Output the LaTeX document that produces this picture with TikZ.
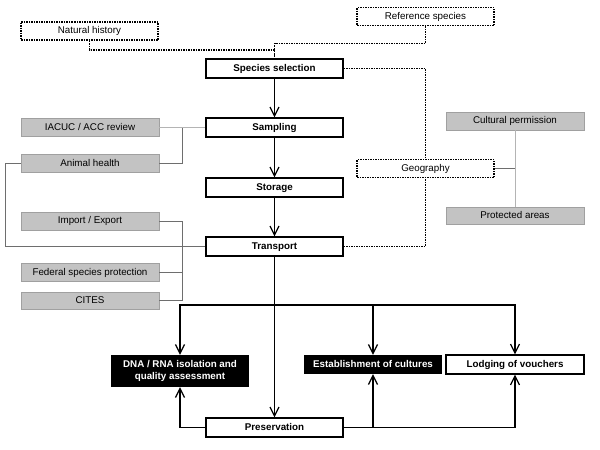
\documentclass[tikz,border=0pt]{standalone}
\usepackage{fontspec}
\setmainfont{Liberation Sans}
\usepackage{xcolor}
\usetikzlibrary{arrows,arrows.meta,calc}
\definecolor{boxgrey}{HTML}{C3C3C3}
\definecolor{rimgrey}{HTML}{A0A0A0}
\definecolor{lightline}{HTML}{B4B4B4}
\definecolor{darkline}{HTML}{6E6E6E}
\tikzset{
	every node/.style={font=\fontsize{9.8}{11.5}\selectfont, inner sep=0pt},
	oneline/.style={text height=7pt, text depth=1.6pt},
	mainbox/.style={oneline, draw, line width=1.3pt, fill=white, minimum width=137pt, minimum height=19pt, font=\fontsize{9.8}{11.5}\selectfont\bfseries},
	darkbox/.style={fill=black, text=white, minimum width=138pt, minimum height=19pt, align=center, font=\fontsize{9.8}{11.5}\selectfont\bfseries},
	greybox/.style={oneline, draw=rimgrey, fill=boxgrey, minimum width=138pt, minimum height=18pt},
	dotbox/.style={oneline, draw, line width=1.7pt, dash pattern=on 1.5pt off 1pt, minimum width=137pt, minimum height=18pt},
	flow/.style={line width=1.3pt, -{Straight Barb[length=9pt,width=9pt,line width=1.2pt]}},
	dotline/.style={line width=1.7pt, dash pattern=on 1.5pt off 1pt},
	greyline/.style={lightline, line width=1pt},
	darkgrey/.style={darkline, line width=0.8pt}
}

\begin{document}
\begin{tikzpicture}[x=1pt, y=-1pt]
	\useasboundingbox (0,0) rectangle (600,450);

	\node[dotbox]	(natural)	at (89.5,31)	{Natural history};
	\node[dotbox]	(refsp)	at (425.5,16.5)	{Reference species};
	\node[dotbox]	(geography)	at (425.5,168.5)	{Geography};

	\node[mainbox]	(selection)	at (274.5,68.5)	{Species selection};
	\node[mainbox]	(sampling)	at (274.5,127.5)	{Sampling};
	\node[mainbox]	(storage)	at (274.5,187.5)	{Storage};
	\node[mainbox]	(transport)	at (274.5,246.5)	{Transport};
	\node[mainbox]	(preservation)	at (274.5,427.5)	{Preservation};

	\node[greybox]	(iacuc)	at (90,127.5)	{IACUC / ACC review};
	\node[greybox]	(health)	at (90,163.5)	{Animal health};
	\node[greybox]	(importexp)	at (90,221)	{Import / Export};
	\node[greybox]	(federal)	at (90,272.5)	{Federal species protection};
	\node[greybox, minimum height=17pt]	(cites)	at (90,300.5)	{CITES};
	\node[greybox]	(cultural)	at (515,121)	{Cultural permission};
	\node[greybox, minimum height=17pt]	(protected)	at (515,215.5)	{Protected areas};

	\node[darkbox, minimum height=32pt]	(dna)	at (180,371)	{DNA / RNA isolation and\\quality assessment};
	\node[darkbox, oneline]	(cultures)	at (373,364.5)	{Establishment of cultures};
	\node[mainbox, minimum width=138pt]	(vouchers)	at (515,364.5)	{Lodging of vouchers};

	\coordinate (fork)	at (274.5,305);
	\coordinate (lbus)	at (182,127.5);

	\draw[dotline]	(natural.south) -- ++(0,9) -| (selection.north);
	\draw[dotline]	(refsp.south) -- ++(0,17) -| (selection.north);
	\draw[dotline]	(selection.east) -| (geography.north);
	\draw[dotline]	(transport.east) -| (geography.south);

	\draw[greyline]	(iacuc.east) -- (sampling.west);
	\draw[darkgrey]	(health.east) -| (lbus);
	\draw[darkgrey]	(health.west) -- ++(-15,0) |- (transport.west);
	\draw[darkgrey]	(importexp.east) -- ++(23,0) |- (cites.east);
	\draw[darkgrey]	(federal.east) -- ++(23,0);
	\draw[greyline]	(cultural.south) -- (protected.north);
	\draw[darkgrey]	(geography.east) -- (geography.east -| cultural.south);

	\draw[flow]	(selection) -- (sampling);
	\draw[flow]	(sampling) -- (storage);
	\draw[flow]	(storage) -- (transport);
	\draw[flow]	(transport) -- (preservation);

	\draw[flow]	(fork) -| (dna.north);
	\draw[flow]	(fork) -| (vouchers.north);
	\draw[flow]	(cultures.north |- fork) -- (cultures.north);
	\draw[flow]	(preservation.west) -| (dna.south);
	\draw[flow]	(preservation.east) -| (vouchers.south);
	\draw[flow]	(cultures.south |- preservation.east) -- (cultures.south);
\end{tikzpicture}
\end{document}
